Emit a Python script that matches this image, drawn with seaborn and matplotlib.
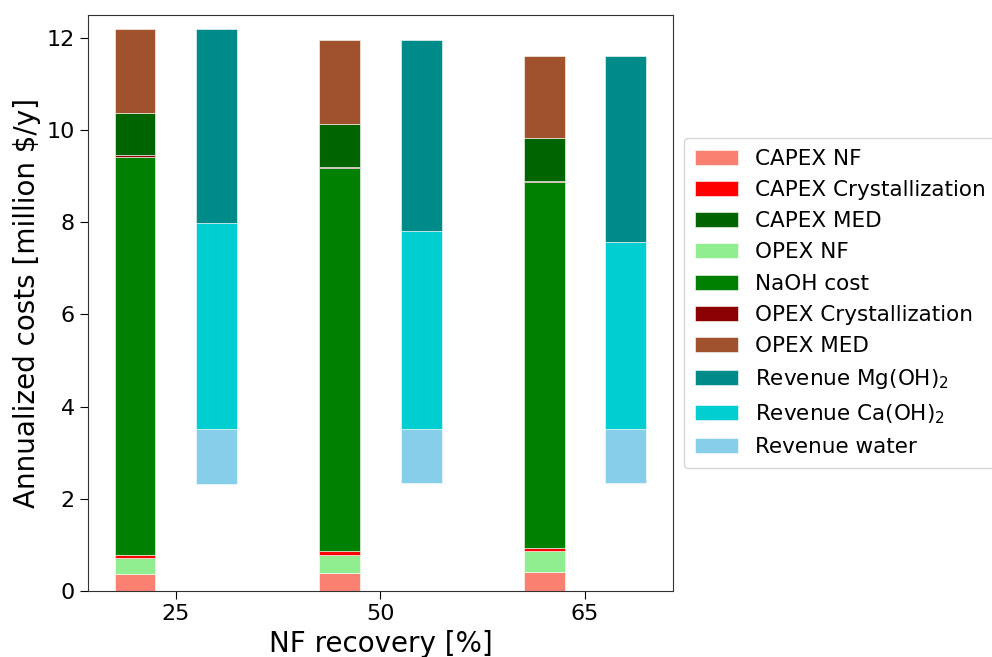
import numpy as np
import matplotlib
matplotlib.use("Agg")
import matplotlib.pyplot as plt
import seaborn as sns

sns.set_style("ticks")
plt.rcParams.update({
    'font.family': ['DejaVu Sans'],
    'text.color': 'black',
    'axes.labelcolor': 'black',
    'xtick.color': 'black',
    'ytick.color': 'black',
    'axes.edgecolor': '#333333',
})

# NF recovery cases
recovery = ['25', '50', '65']

# cost components [million $/y], listed bottom to top as stacked
capex_nf = [0.375, 0.40, 0.41]
opex_nf = [0.335, 0.38, 0.45]
capex_cryst = [0.07, 0.08, 0.07]
naoh_cost = [8.63, 8.32, 7.94]
opex_cryst = [0.05, 0.02, 0.02]
capex_med = [0.92, 0.93, 0.93]
opex_med = [1.82, 1.82, 1.80]

# revenues [million $/y], stacked downwards from the total cost
rev_mg = [4.21, 4.14, 4.04]
rev_ca = [4.47, 4.29, 4.06]
rev_water = [1.19, 1.17, 1.17]

cost_stack = [
    ('CAPEX NF', capex_nf, 'salmon'),
    ('OPEX NF', opex_nf, 'lightgreen'),
    ('CAPEX Crystallization', capex_cryst, 'red'),
    ('NaOH cost', naoh_cost, 'green'),
    ('OPEX Crystallization', opex_cryst, 'darkred'),
    ('CAPEX MED', capex_med, 'darkgreen'),
    ('OPEX MED', opex_med, 'sienna'),
]
rev_stack = [
    ('Revenue water', rev_water, 'skyblue'),
    ('Revenue Ca(OH)$_2$', rev_ca, 'darkturquoise'),
    ('Revenue Mg(OH)$_2$', rev_mg, 'darkcyan'),
]
legend_order = ['CAPEX NF', 'CAPEX Crystallization', 'CAPEX MED', 'OPEX NF',
                'NaOH cost', 'OPEX Crystallization', 'OPEX MED',
                'Revenue Mg(OH)$_2$', 'Revenue Ca(OH)$_2$', 'Revenue water']

x = np.arange(len(recovery))
w = 0.2

fig = plt.figure(figsize=(9.92, 6.57), dpi=100)
ax = fig.add_axes([0.0887, 0.1005, 0.5897, 0.8767])

handles = {}
bottom = np.zeros(len(x))
for name, vals, col in cost_stack:
    vals = np.array(vals)
    h = ax.bar(x - w, vals, w, bottom=bottom, color=col, label=name,
               edgecolor='white', linewidth=0.4)
    handles[name] = h
    bottom = bottom + vals
total_cost = bottom

rbottom = total_cost - (np.array(rev_mg) + np.array(rev_ca) + np.array(rev_water))
for name, vals, col in rev_stack:
    vals = np.array(vals)
    h = ax.bar(x + w, vals, w, bottom=rbottom, color=col, label=name,
               edgecolor='white', linewidth=0.4)
    handles[name] = h
    rbottom = rbottom + vals

ax.set_xticks(x)
ax.set_xticklabels(recovery)
ax.set_ylim(0, 12.5)
ax.set_yticks([0, 2, 4, 6, 8, 10, 12])
ax.tick_params(labelsize=16, length=6)
ax.set_xlabel('NF recovery [%]', fontsize=20, labelpad=4)
ax.set_ylabel('Annualized costs [million $/y]', fontsize=20)

ax.legend([handles[n] for n in legend_order], legend_order,
          loc='center left', bbox_to_anchor=(1.0, 0.5), fontsize=15.5,
          frameon=True, labelspacing=0.52, borderpad=0.5)

fig.savefig('out.png', dpi=100)
